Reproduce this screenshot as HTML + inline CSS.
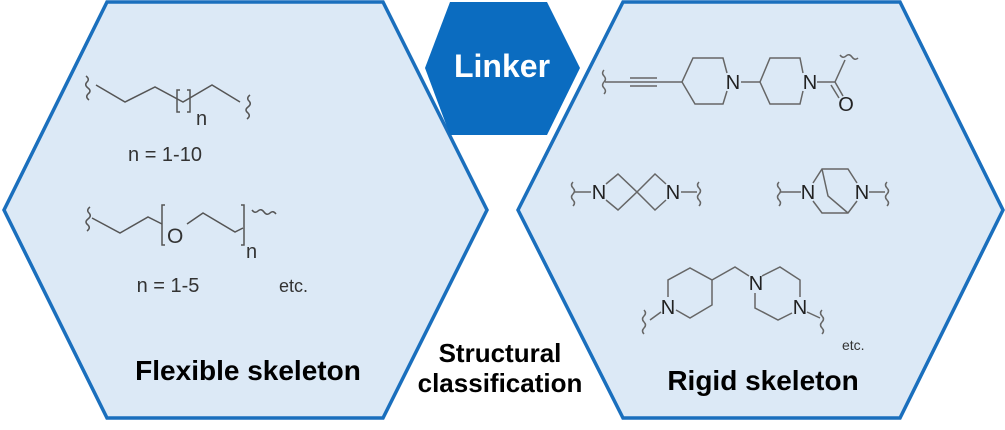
<!DOCTYPE html>
<html><head><meta charset="utf-8"><style>
html,body{margin:0;padding:0;background:#fff;}
svg{display:block;}
text{font-family:"Liberation Sans",Arial,sans-serif;}
</style></head><body>
<svg width="1005" height="430" viewBox="0 0 1005 430" xmlns="http://www.w3.org/2000/svg">
<g fill="#dce9f6" stroke="#1a6fbd" stroke-width="3.5" stroke-linejoin="miter">
<polygon points="107,2 383,2 487,210 383,418 107,418 4,210"/>
<polygon points="623,2 900,2 1003,210 900,418 623,418 518,210"/>
</g>
<polygon points="450,2 547,2 580,68 547,135 450,135 425,68" fill="#0b6cc0"/>
<text x="502" y="77" font-size="32" font-weight="bold" fill="#fff" text-anchor="middle">Linker</text>
<text x="500" y="362" font-size="26" font-weight="bold" fill="#000" text-anchor="middle">Structural</text>
<text x="500" y="392" font-size="26" font-weight="bold" fill="#000" text-anchor="middle">classification</text>
<text x="248" y="380" font-size="28" font-weight="bold" fill="#000" text-anchor="middle">Flexible skeleton</text>
<text x="763" y="390" font-size="28" font-weight="bold" fill="#000" text-anchor="middle">Rigid skeleton</text>

<g fill="none" stroke="#555" stroke-width="1.5">
<path d="M86,76 q4,3 1,6 q-3,3 1,6 q4,3 0,6 q-3,3 1,6"/>
<polyline points="96,85 125,102 155,87 183,102 212,85 240,102"/>
<path d="M180,90 h-3 v22 h3 M187,90 h3 v22 h-3"/>
<path d="M250,95 q-4,3 -1,6 q3,3 -1,6 q-4,3 0,6 q3,3 -1,6"/>
<path d="M90,207 q-4,3 -1,6 q3,3 -1,6 q-4,3 0,6 q3,3 -1,6"/>
<polyline points="92,218 120,233 148,217 162,224"/>
<path d="M165,205 h-3 v40 h3 M241,205 h3 v40 h-3"/>
<polyline points="187,224 203,213 235,232 243,228"/>
<path d="M252,210 q3,4 6,1 q3,-3 6,1 q3,4 6,1 q3,-3 6,1"/>
</g>
<g fill="#333" font-size="20">
<text x="196" y="125" font-size="20">n</text>
<text x="165" y="161" text-anchor="middle">n = 1-10</text>
<text x="167" y="243" font-size="21">O</text>
<text x="246" y="258" font-size="20">n</text>
<text x="168" y="292" text-anchor="middle">n = 1-5</text>
<text x="279" y="292" font-size="18">etc.</text>
<text x="842" y="350" font-size="14">etc.</text>
</g>

<g fill="none" stroke="#666" stroke-width="1.5">
<path d="M604,70 q-3,3 0,6 q3,3 0,6 q-3,3 0,6 q3,3 0,6"/>
<line x1="605" y1="82" x2="630" y2="82"/>
<line x1="630" y1="78" x2="657" y2="78"/><line x1="630" y1="82" x2="657" y2="82"/><line x1="630" y1="86" x2="657" y2="86"/>
<line x1="657" y1="82" x2="682" y2="82"/>
<polyline points="727,73 723,58 693,58 682,82 695,104 723,104 727,91"/>
<line x1="741" y1="82" x2="760" y2="82"/>
<polyline points="803,73 800,58 770,58 760,82 770,104 800,104 803,91"/>
<line x1="817" y1="82" x2="835" y2="82"/>
<line x1="835" y1="82" x2="845" y2="60"/>
<path d="M840,55 q3,4 6,1 q3,-3 6,1 q3,4 6,1"/>
<line x1="835" y1="82" x2="843" y2="96"/><line x1="831" y1="85" x2="839" y2="98"/>
<path d="M573,182 q-3,3 0,6 q3,3 0,6 q-3,3 0,6 q3,3 0,6"/>
<line x1="575" y1="192" x2="591" y2="192"/>
<polyline points="606,184 618,174 637,192 618,210 606,200"/>
<polyline points="666,184 655,174 637,192 655,210 666,200"/>
<line x1="681" y1="192" x2="697" y2="192"/>
<path d="M699,182 q-3,3 0,6 q3,3 0,6 q-3,3 0,6 q3,3 0,6"/>
<path d="M779,182 q-3,3 0,6 q3,3 0,6 q-3,3 0,6 q3,3 0,6"/>
<line x1="781" y1="192" x2="801" y2="192"/>
<polyline points="813,183 822,169 848,169 857,183"/>
<polyline points="813,201 822,213 848,213 857,201"/>
<polyline points="822,169 828,196 848,213"/>
<line x1="869" y1="192" x2="885" y2="192"/>
<path d="M887,182 q-3,3 0,6 q3,3 0,6 q-3,3 0,6 q3,3 0,6"/>
<polyline points="668,297 668,280 690,268 712,280 712,305 690,318 676,310"/>
<polyline points="712,280 735,267 749,276"/>
<polyline points="762,276 780,267 800,280 800,297"/>
<polyline points="792,313 778,320 755,308 755,293"/>
<line x1="661" y1="312" x2="650" y2="320"/>
<path d="M644,310 q3,3 0,6 q-3,3 0,6 q3,3 0,6 q-3,3 0,6"/>
<line x1="807" y1="312" x2="820" y2="318"/>
<path d="M822,310 q-3,3 0,6 q3,3 0,6 q-3,3 0,6 q3,3 0,6"/>
</g>
<g fill="#222" font-size="20" text-anchor="middle">
<text x="733" y="89">N</text>
<text x="810" y="89">N</text>
<text x="846" y="111">O</text>
<text x="599" y="199">N</text>
<text x="673" y="199">N</text>
<text x="808" y="199">N</text>
<text x="862" y="199">N</text>
<text x="668" y="314">N</text>
<text x="756" y="290">N</text>
<text x="800" y="314">N</text>
</g>
</svg>
</body></html>
